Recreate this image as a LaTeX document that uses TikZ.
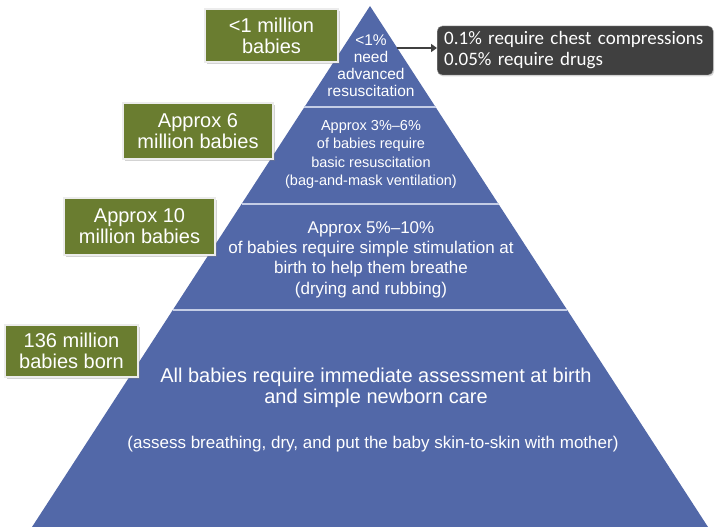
\documentclass[tikz,border=0pt]{standalone}
\usepackage{fontspec}
\setmainfont{Liberation Sans}
\newfontfamily\notefont{Carlito}
\usetikzlibrary{shadows,arrows.meta}
\definecolor{pyrblue}{RGB}{82,104,168}
\definecolor{gapblue}{RGB}{196,205,230}
\definecolor{boxgreen}{RGB}{106,125,48}
\definecolor{notegray}{RGB}{64,64,64}

\begin{document}
\begin{tikzpicture}[x=1pt,y=-1pt,
    tier/.style={align=center, text=white, inner sep=0pt},
    countbox/.style={fill=boxgreen, draw=gray!15, line width=1.2pt, text=white, align=center,
      inner sep=0pt, font=\fontsize{20}{21}\selectfont,
      drop shadow={shadow xshift=1.5pt, shadow yshift=-2pt, opacity=0.35}},
    notebox/.style={fill=notegray, draw=gray!70, rounded corners=5pt, text=white, align=left,
      inner xsep=7pt, inner ysep=0pt, font=\notefont\fontsize{19}{21}\selectfont,
      drop shadow={shadow xshift=1pt, shadow yshift=-1.5pt, opacity=0.3}}]
  \useasboundingbox (0,0) rectangle (715,527);

  % pyramid and the pale gaps between its tiers
  \fill[pyrblue] (370,6) -- (708,527) -- (32,527) -- cycle;
  \foreach \y in {107,204,310}
    \draw[gapblue, line width=2pt] ({370-0.649*(\y-6)},\y) -- ({370+0.649*(\y-6)},\y);

  % tier texts
  \node[tier, font=\fontsize{15.5}{17}\selectfont] (advanced) at (371,66) {<1\%\\need\\advanced\\resuscitation};
  \node[tier, font=\fontsize{14.5}{18.3}\selectfont] (basic) at (371,154.5) {Approx 3\%–6\%\\of babies require\\basic resuscitation\\(bag-and-mask ventilation)};
  \node[tier, font=\fontsize{17}{20.3}\selectfont] (simple) at (371,259.5) {Approx 5\%–10\%\\of babies require simple stimulation at\\birth to help them breathe\\(drying and rubbing)};
  \node[tier, font=\fontsize{20}{21}\selectfont] (allcare) at (376,387.5) {All babies require immediate assessment at birth\\and simple newborn care};
  \node[tier, font=\fontsize{17}{20}\selectfont] (allnote) at (373,444) {(assess breathing, dry, and put the baby skin-to-skin with mother)};

  % counts on the left
  \node[countbox, minimum width=133, minimum height=53] (under1) at (271.5,35.5) {<1 million\\babies};
  \node[countbox, minimum width=150, minimum height=56] (six) at (198,131) {Approx 6\\million babies};
  \node[countbox, minimum width=151, minimum height=57] (ten) at (139.5,226.5) {Approx 10\\million babies};
  \node[countbox, minimum width=133, minimum height=52] (born) at (71.5,351) {136 million\\babies born};

  % top tier breakdown
  \node[notebox, anchor=west, text width=262pt, minimum height=49] (drugs) at (437,50.5) {0.1\% require chest compressions\\0.05\% require drugs};
  \coordinate (tipedge) at (397,48);
  \draw[notegray, line width=2.5pt, -{Triangle[length=6pt,width=8pt]}] (tipedge) -- (tipedge -| drugs.west);
\end{tikzpicture}
\end{document}
